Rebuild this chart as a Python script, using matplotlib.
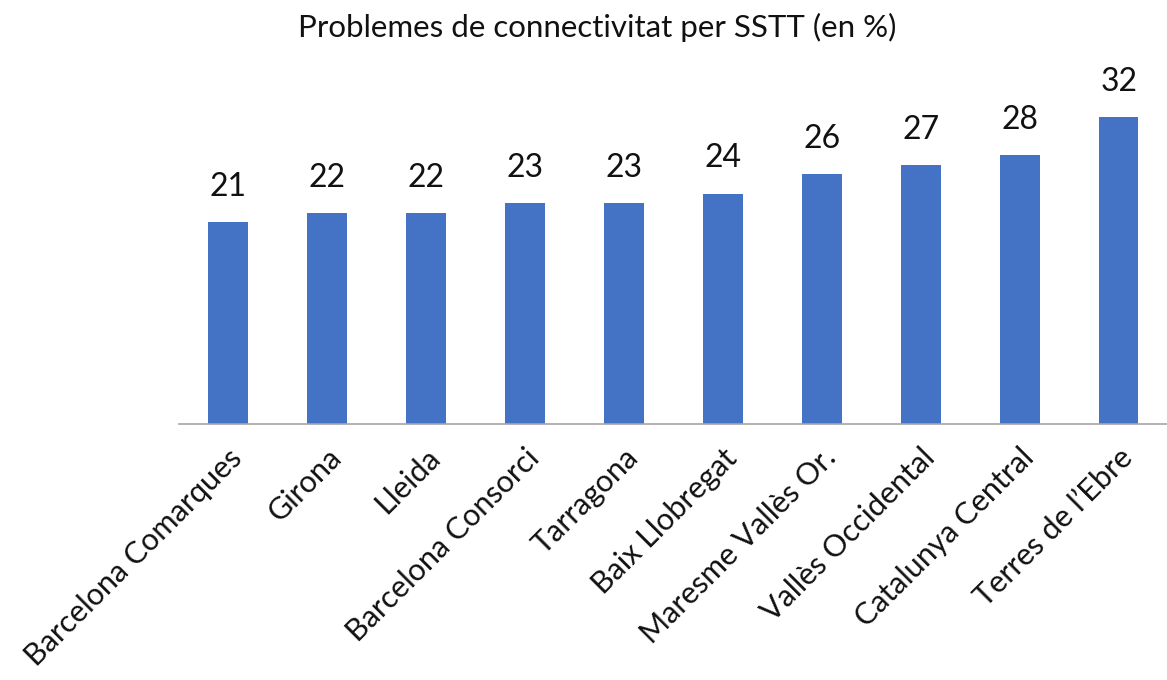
"""Bar chart: connectivity problems per SSTT (in %)."""

import matplotlib

matplotlib.use("Agg")
import matplotlib.pyplot as plt  # noqa: E402

regions = [
    "Barcelona Comarques", "Girona", "Lleida", "Barcelona Consorci", "Tarragona",
    "Baix Llobregat", "Maresme Vallès Or.", "Vallès Occidental", "Catalunya Central",
    "Terres de l’Ebre",
]
pct = [21, 22, 22, 23, 23, 24, 26, 27, 28, 32]

plt.rcParams["font.family"] = ["Lato", "DejaVu Sans"]

fig = plt.figure(figsize=(11.67, 6.8), dpi=100)
ax = fig.add_axes([0.153, 0.3765, 0.848, 0.494])

x = range(len(regions))
bars = ax.bar(x, pct, width=0.4, color="#4472C4")
for bar, v in zip(bars, pct):
    ax.text(bar.get_x() + bar.get_width() / 2, v + 2.1, f"{v}",
            ha="center", va="bottom", fontsize=23, color="#111111")

ax.set_xlim(-0.5, len(regions) - 0.5)
ax.set_ylim(0, 35)
ax.set_yticks([])
ax.set_xticks(list(x))
ax.set_xticklabels(regions, rotation=45, ha="right", rotation_mode="anchor",
                   fontsize=22, color="#111111")
ax.tick_params(axis="x", length=0, pad=14)
ax.spines[["top", "right", "left"]].set_visible(False)
ax.spines["bottom"].set_color("#a6a6a6")
ax.spines["bottom"].set_linewidth(1.2)

fig.text(0.512, 0.96, "Problemes de connectivitat per SSTT (en %)",
         ha="center", va="center", fontsize=22.5, color="#111111")

fig.savefig("out.png", dpi=100)
